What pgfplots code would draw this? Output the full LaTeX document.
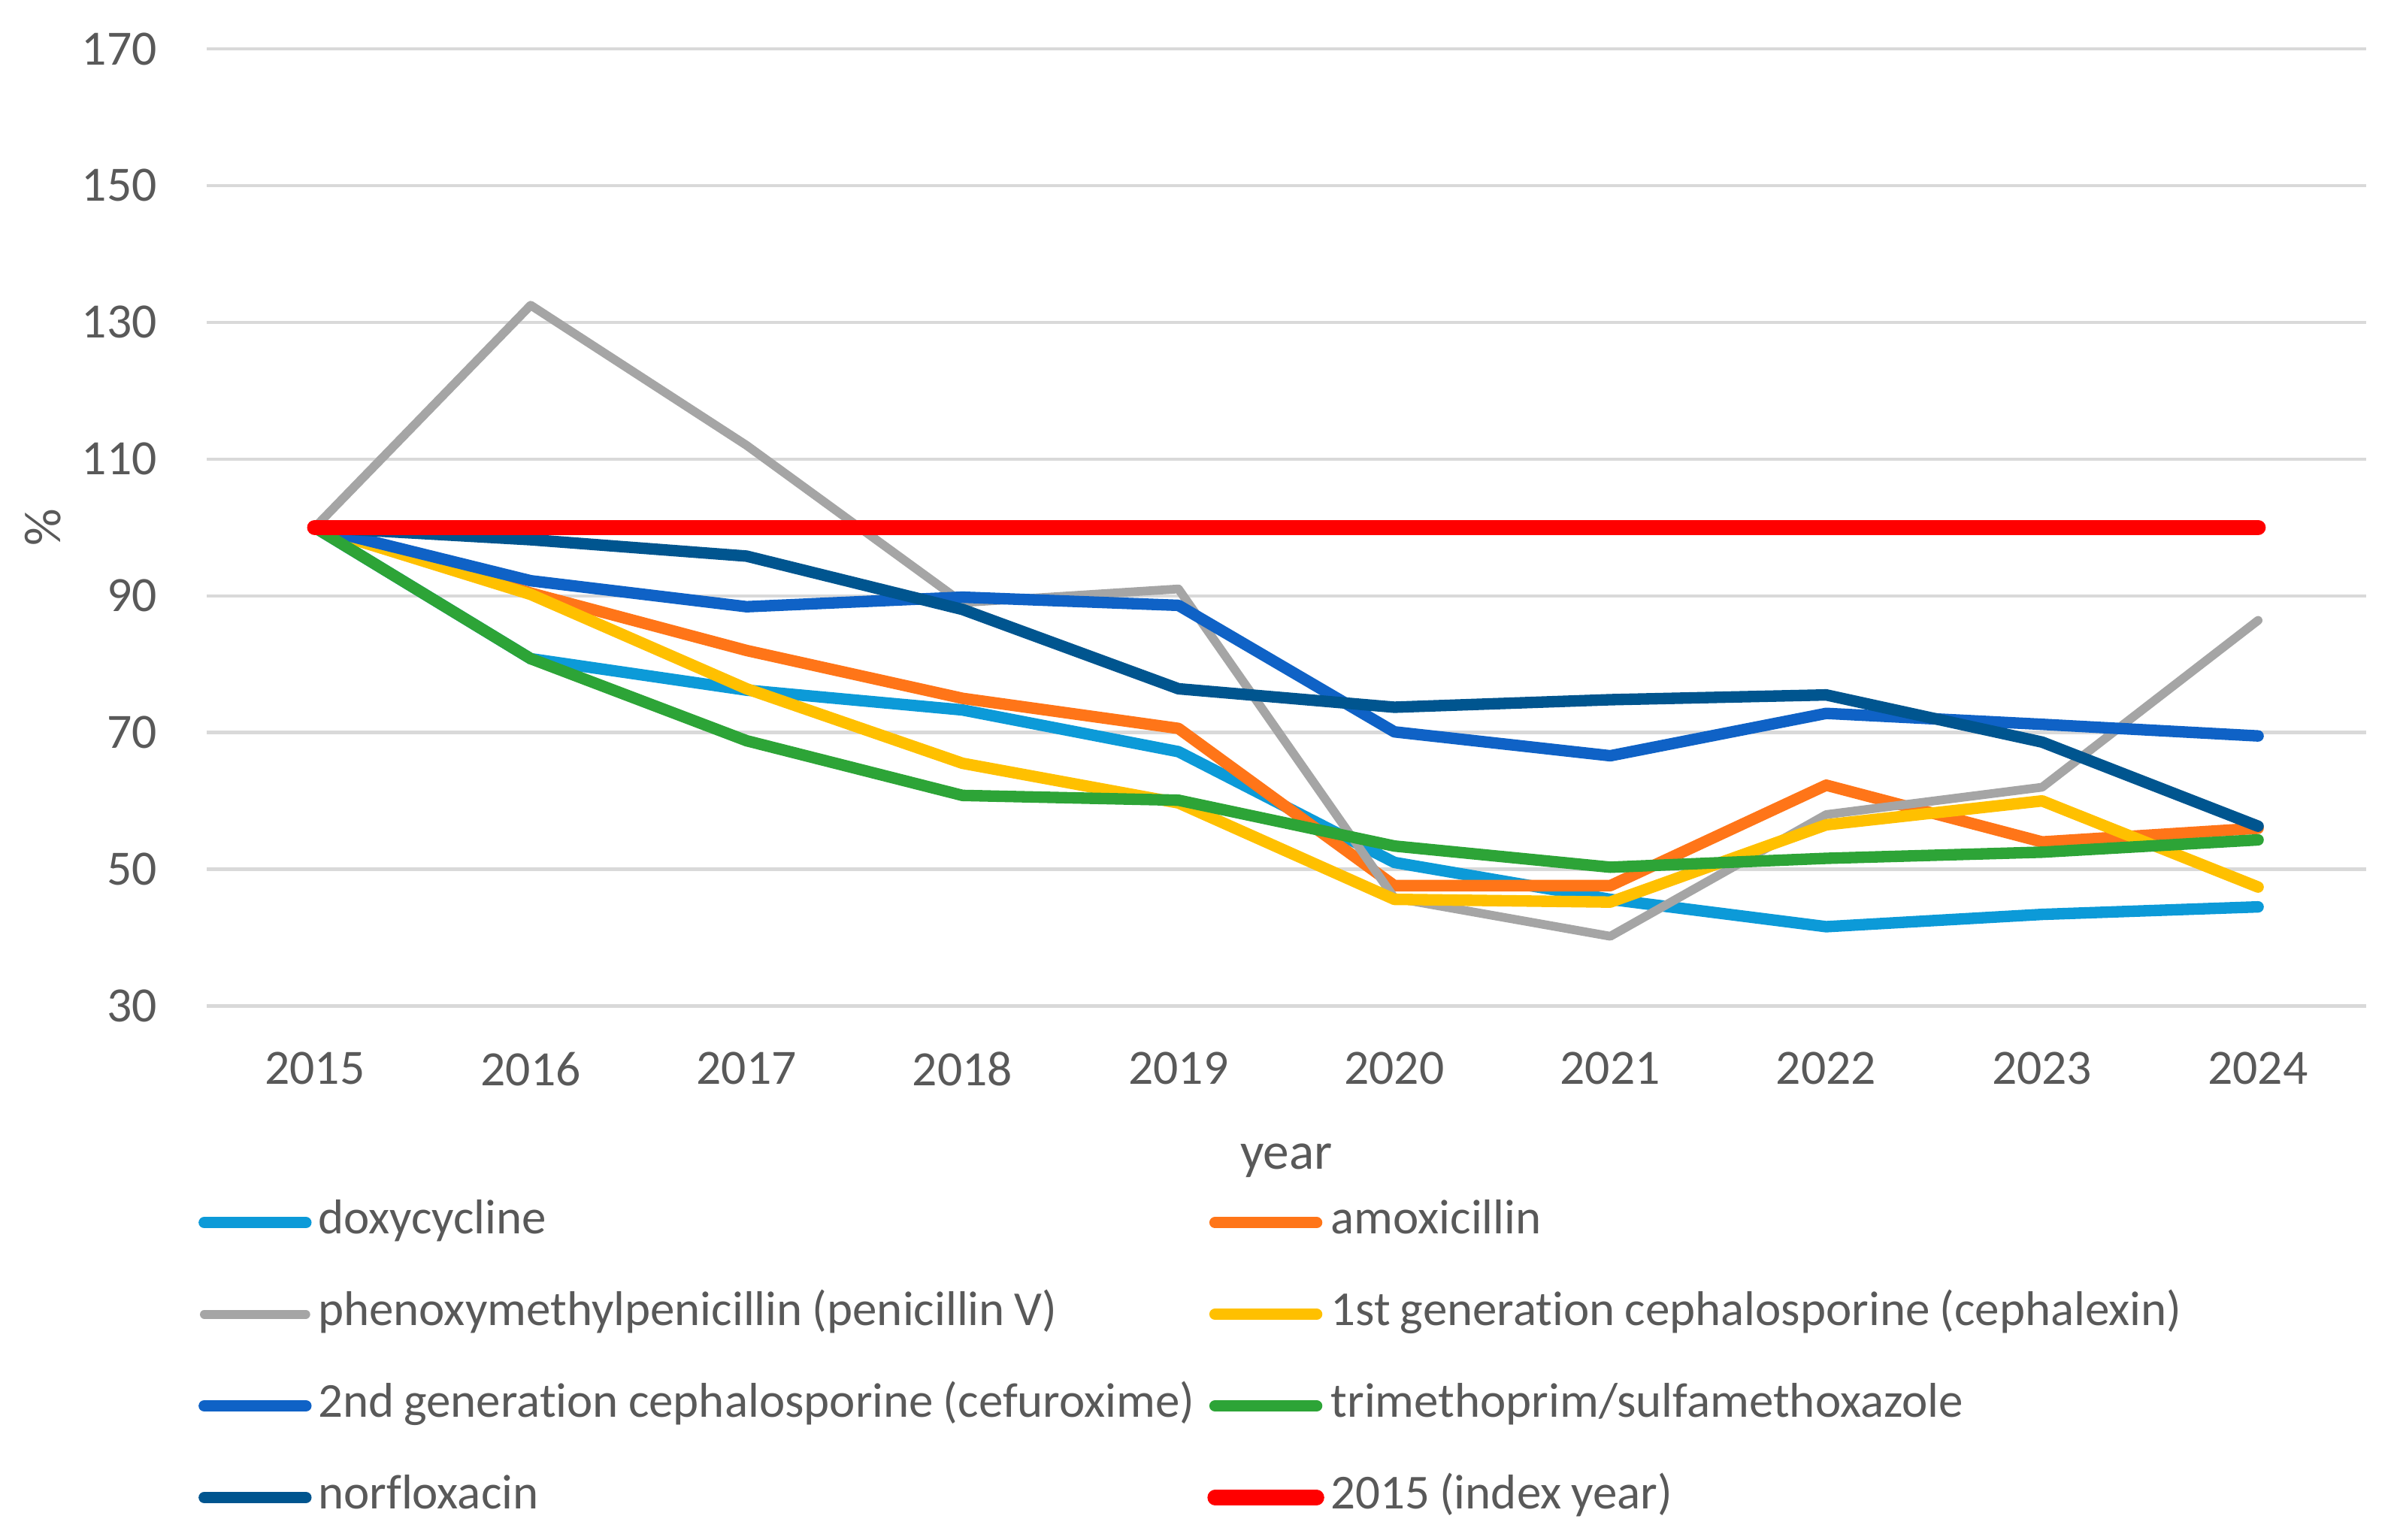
\documentclass[border=0pt]{standalone}
\usepackage{fontspec}
\setmainfont{Carlito}[Ligatures={NoCommon}]
\usepackage{pgfplots}
\pgfplotsset{compat=1.18}

\definecolor{txtgray}{HTML}{595959}
\definecolor{gridgray}{HTML}{D9D9D9}
\definecolor{cdoxy}{HTML}{0C9AD8}
\definecolor{camox}{HTML}{FF7518}
\definecolor{cpen}{HTML}{A5A5A5}
\definecolor{cceph}{HTML}{FFC000}
\definecolor{ccef}{HTML}{0F62C6}
\definecolor{ctmp}{HTML}{2DA437}
\definecolor{cnor}{HTML}{00558F}
\definecolor{cidx}{HTML}{FF0000}

\begin{document}
\begin{tikzpicture}
% page size fixed around the axis box (axis south west sits at the origin)
\path[use as bounding box] (-37.7pt,-97.3pt) rectangle (398.7pt,183.4pt);
\begin{axis}[
  scale only axis,
  width=393.6pt, height=174.5pt,
  xmin=2014.5, xmax=2024.5,
  ymin=30, ymax=170,
  xtick={2015,...,2024},
  ytick={30,50,...,170},
  ymajorgrids,
  grid style={gridgray, line width=0.6pt},
  axis line style={draw=none},
  major tick length=0pt,
  /pgf/number format/assume math mode=true,
  /pgf/number format/set thousands separator={},
  tick label style={font=\fontsize{9}{11}\selectfont, text=txtgray},
  xticklabel style={anchor=north, inner sep=0pt, yshift=-8.2pt},
  yticklabel style={anchor=east, inner sep=0pt, xshift=-8.9pt},
  xlabel={year},
  ylabel={\%},
  every axis x label/.style={at={(axis description cs:0.5,0)}, anchor=center,
    yshift=-28.2pt, font=\fontsize{9.5}{11}\selectfont, text=txtgray},
  every axis y label/.style={at={(axis description cs:-0.076,0.5)}, anchor=center,
    rotate=90, font=\fontsize{9.5}{11}\selectfont, text=txtgray},
  legend columns=2,
  legend cell align=left,
  legend image code/.code={\draw[#1] (0pt,0pt) -- (18.5pt,0pt);},
  legend style={
    at={(axis description cs:0,0)}, anchor=north west,
    xshift=-1.7pt, yshift=-35.3pt,
    draw=none, fill=none, inner sep=0pt,
    row sep=8.7pt, column sep=0pt,
    font=\fontsize{8.9}{11}\selectfont, text=txtgray,
    nodes={inner xsep=1.2pt, inner ysep=0pt, text width=160.9pt,
      text height=6pt, text depth=2pt,
      execute at begin node={\hbox to \hsize\bgroup\spaceskip=0.2em\relax},
      execute at end node={\hss\egroup}},
  },
  every axis plot/.append style={line width=2.1pt, line join=round, line cap=round},
]
\addplot[cdoxy] coordinates {(2015,100) (2016,80.8) (2017,76.2) (2018,73.3) (2019,67.2)
  (2020,51.0) (2021,45.6) (2022,41.6) (2023,43.4) (2024,44.5)};
\addlegendentry{doxycycline}
\addplot[camox] coordinates {(2015,100) (2016,90.4) (2017,82.0) (2018,75.0) (2019,70.6)
  (2020,47.6) (2021,47.6) (2022,62.3) (2023,54.0) (2024,56.0)};
\addlegendentry{amoxicillin}
\addplot[cpen, line width=1.6pt] coordinates {(2015,100) (2016,132.5) (2017,112.0) (2018,89.0) (2019,91.0)
  (2020,45.8) (2021,40.2) (2022,58.0) (2023,62.0) (2024,86.4)};
\addlegendentry{phenoxymethylpenicillin (penicillin V)}
\addplot[cceph] coordinates {(2015,100) (2016,90.2) (2017,76.4) (2018,65.5) (2019,59.7)
  (2020,45.6) (2021,45.2) (2022,56.5) (2023,60.0) (2024,47.4)};
\addlegendentry{1st generation cephalosporine (cephalexin)}
\addplot[ccef] coordinates {(2015,100) (2016,92.2) (2017,88.4) (2018,89.8) (2019,88.6)
  (2020,70.1) (2021,66.6) (2022,72.8) (2023,71.2) (2024,69.5)};
\addlegendentry{2nd generation cephalosporine (cefuroxime)}
\addplot[ctmp] coordinates {(2015,100) (2016,80.8) (2017,68.8) (2018,60.8) (2019,60.1)
  (2020,53.4) (2021,50.3) (2022,51.6) (2023,52.5) (2024,54.3)};
\addlegendentry{trimethoprim/sulfamethoxazole}
\addplot[cnor] coordinates {(2015,100) (2016,98.2) (2017,95.8) (2018,88.0) (2019,76.4)
  (2020,73.7) (2021,74.8) (2022,75.5) (2023,68.6) (2024,56.3)};
\addlegendentry{norfloxacin}
\addplot[cidx, line width=2.8pt] coordinates {(2015,100) (2016,100) (2017,100) (2018,100) (2019,100)
  (2020,100) (2021,100) (2022,100) (2023,100) (2024,100)};
\addlegendentry{2015 (index year)}
\end{axis}
\end{tikzpicture}
\end{document}
